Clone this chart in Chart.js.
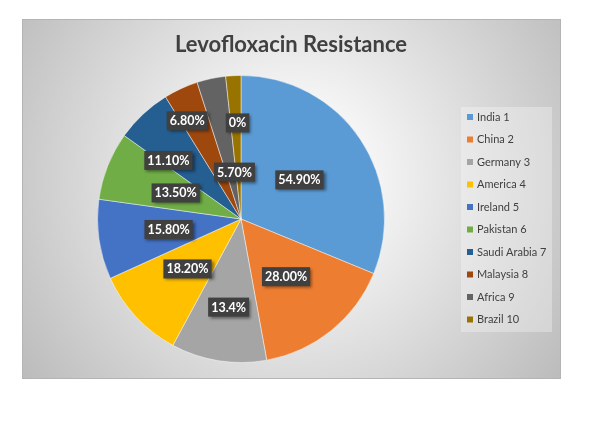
<!DOCTYPE html>
<html>
<head>
<meta charset="utf-8">
<script src="https://cdn.jsdelivr.net/npm/chart.js@4.4.0/dist/chart.umd.min.js"></script>
<style>
  html, body { margin: 0; padding: 0; background: #ffffff; }
  #wrap { width: 615px; height: 425px; }
</style>
</head>
<body>
<div id="wrap"><canvas id="myChart" width="615" height="425"></canvas></div>
<script>
'use strict';

// slice data (slice sizes, labels as printed on the chart)
let countries = ['India 1', 'China 2', 'Germany 3', 'America 4', 'Ireland 5',
  'Pakistan 6', 'Saudi Arabia 7', 'Malaysia 8', 'Africa 9', 'Brazil 10'];
let resistance = [54.9, 28.0, 18.9, 18.2, 15.8, 13.5, 11.1, 6.8, 5.7, 3.0];
let labelText = ['54.90%', '28.00%', '13.4%', '18.20%', '15.80%',
  '13.50%', '11.10%', '6.80%', '5.70%', '0%'];
let sliceColors = ['#5B9BD5', '#ED7D31', '#A5A5A5', '#FFC000', '#4472C4',
  '#70AD47', '#255E91', '#9E480E', '#636363', '#997300'];

// where each data label sits: fraction of radius, and shift from mid angle (deg)
let labelRadius = [0.49, 0.51, 0.62, 0.51, 0.51, 0.49, 0.65, 0.78, 0.33, 0.67];
let labelShift = [0, 1, -1, 0, 0, 0, -8, -4, 4, 1];

let fontFamily = 'Lato, "Open Sans", sans-serif';

let backgroundPlugin = {
  id: 'excelBackground',
  beforeDraw(chart) {
    let ctx = chart.ctx;
    ctx.save();
    let grad = ctx.createRadialGradient(292, 180, 0, 292, 180, 340);
    grad.addColorStop(0, '#ffffff');
    grad.addColorStop(0.25, '#f4f4f4');
    grad.addColorStop(1, '#bababa');
    ctx.fillStyle = grad;
    ctx.fillRect(22, 19, 539, 360);
    ctx.strokeStyle = '#b4b4b4';
    ctx.lineWidth = 1;
    ctx.strokeRect(22.5, 19.5, 538, 359);

    // title
    ctx.fillStyle = '#404040';
    ctx.font = 'bold 22px ' + fontFamily;
    ctx.textAlign = 'center';
    ctx.textBaseline = 'middle';
    ctx.fillText('Levofloxacin Resistance', 291, 45);

    // legend
    ctx.fillStyle = 'rgba(255,255,255,0.3)';
    ctx.fillRect(461, 107, 91, 225);
    ctx.font = '11px ' + fontFamily;
    ctx.textAlign = 'left';
    let labels = chart.data.labels;
    for (let i = 0; i < labels.length; i++) {
      let y = 117 + i * 22.5;
      ctx.fillStyle = sliceColors[i];
      ctx.fillRect(467, y - 3, 6, 6);
      ctx.fillStyle = '#404040';
      ctx.fillText(labels[i], 477, y);
    }
    ctx.restore();
  }
};

let dataLabelPlugin = {
  id: 'boxLabels',
  afterDatasetsDraw(chart) {
    let ctx = chart.ctx;
    let meta = chart.getDatasetMeta(0);
    ctx.save();
    ctx.font = 'bold 12.5px ' + fontFamily;
    ctx.textAlign = 'center';
    ctx.textBaseline = 'middle';
    meta.data.forEach(function(arc, i) {
      let p = arc.getProps(['x', 'y', 'startAngle', 'endAngle', 'outerRadius'], true);
      let mid = (p.startAngle + p.endAngle) / 2 + labelShift[i] * Math.PI / 180;
      let r = p.outerRadius * labelRadius[i];
      let lx = p.x + Math.cos(mid) * r;
      let ly = p.y + Math.sin(mid) * r;
      let w = ctx.measureText(labelText[i]).width + 6;
      let h = 19;
      ctx.shadowColor = 'rgba(0,0,0,0.45)';
      ctx.shadowBlur = 3;
      ctx.shadowOffsetX = 2;
      ctx.shadowOffsetY = 2;
      ctx.fillStyle = '#404040';
      ctx.fillRect(lx - w / 2, ly - h / 2, w, h);
      ctx.shadowColor = 'transparent';
      ctx.fillStyle = '#ffffff';
      ctx.fillText(labelText[i], lx, ly + 0.5);
    });
    ctx.restore();
  }
};

let ctx = document.getElementById('myChart').getContext('2d');

let chart = new Chart(ctx, {
  type: 'pie',
  data: {
    labels: countries,
    datasets: [
      {
        data: resistance,
        backgroundColor: sliceColors,
        borderColor: 'rgba(255,255,255,0.45)',
        borderWidth: 1
      }
    ]
  },
  options: {
    responsive: false,
    animation: false,
    layout: {
      padding: { top: 75, bottom: 62, left: 97, right: 230 }
    },
    plugins: {
      legend: { display: false },
      title: { display: false },
      tooltip: { enabled: false }
    }
  },
  plugins: [backgroundPlugin, dataLabelPlugin]
});
</script>
</body>
</html>
